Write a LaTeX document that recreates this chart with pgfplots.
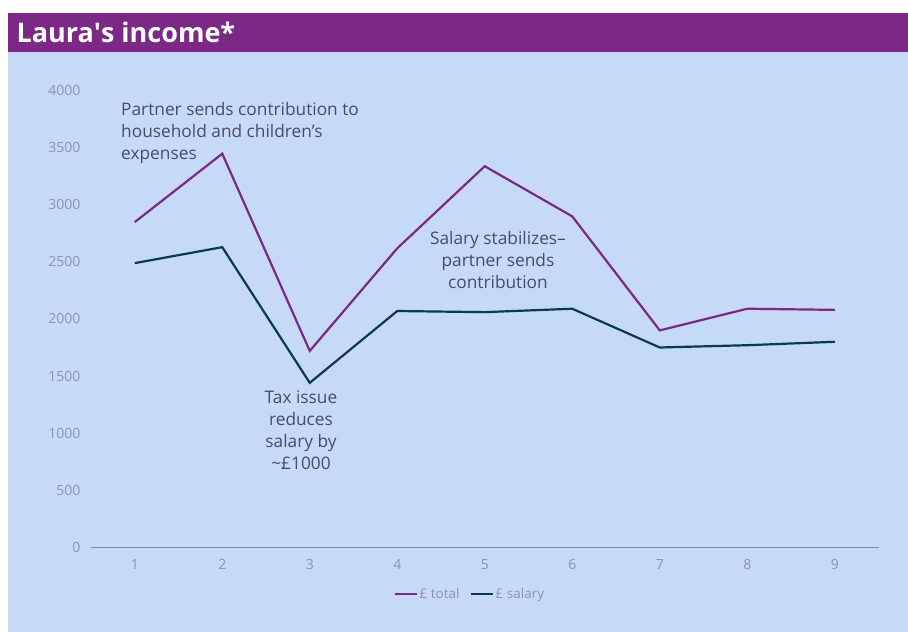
\documentclass[border=0pt]{standalone}
\usepackage{pgfplots}
\pgfplotsset{compat=1.18}
\usepackage{fontspec}
\setmainfont{Open Sans}
\definecolor{ttl}{HTML}{7B2984}
\definecolor{panel}{HTML}{C6DAF7}
\definecolor{navy}{HTML}{0B3A50}
\definecolor{tickgray}{HTML}{8C93AB}
\definecolor{anno}{HTML}{474C66}
\definecolor{axgray}{HTML}{7F8CA3}
\begin{document}
\begin{tikzpicture}[x=1bp,y=1bp]
\fill[white] (0,0) rectangle (908,632);
\fill[panel] (8,0) rectangle (908,580);
\fill[ttl] (8,580) rectangle (908,619);
\node[anchor=west,text=white,font=\fontsize{27bp}{30bp}\selectfont\bfseries] at (13,599.5) {Laura\textquotesingle s income*};
\begin{axis}[
  at={(91bp,85bp)}, anchor=origin,
  scale only axis, width=787.5bp, height=456bp,
  xmin=0.5, xmax=9.5, ymin=0, ymax=4000,
  axis x line*=bottom, axis y line*=left,
  x axis line style={draw=axgray,-}, y axis line style={draw=none},
  major tick length=0pt,
  xtick={1,...,9}, ytick={0,500,...,4000},
  /pgf/number format/assume math mode=true,
  /pgf/number format/set thousands separator={},
  tick label style={text=tickgray,font=\fontsize{14bp}{16bp}\selectfont},
  yticklabel style={xshift=-7bp},
  xticklabel style={yshift=-9bp},
  legend style={at={(0.481,-0.103)},anchor=center,draw=none,fill=none,
    legend columns=2,font=\fontsize{13.5bp}{15bp}\selectfont,text=tickgray,
    /tikz/every even column/.append style={column sep=8bp}},
  legend image code/.code={\draw[#1,line width=2.2bp] (0bp,0bp) -- (22bp,0bp);},
  clip=false,
]
\addplot[ttl, line width=2.2bp] coordinates {(1,2850) (2,3450) (3,1720) (4,2620) (5,3340) (6,2900) (7,1900) (8,2090) (9,2080)};
\addlegendentry{£ total}
\addplot[navy, line width=2.2bp] coordinates {(1,2490) (2,2630) (3,1440) (4,2070) (5,2060) (6,2090) (7,1750) (8,1770) (9,1800)};
\addlegendentry{£ salary}
\node[anchor=north west,align=left,text=anno,font=\fontsize{17.3bp}{22bp}\selectfont,inner sep=0pt] at (axis cs:0.843,3905) {Partner sends contribution to\\household and children’s\\expenses};
\node[anchor=north,align=center,text=anno,font=\fontsize{17.3bp}{22bp}\selectfont,inner sep=0pt] at (axis cs:5.151,2772) {Salary stabilizes–\\partner sends\\contribution};
\node[anchor=north,align=center,text=anno,font=\fontsize{17.3bp}{22bp}\selectfont,inner sep=0pt] at (axis cs:2.9,1370) {Tax issue\\reduces\\salary by\\\textasciitilde£1000};
\end{axis}
\end{tikzpicture}
\end{document}
